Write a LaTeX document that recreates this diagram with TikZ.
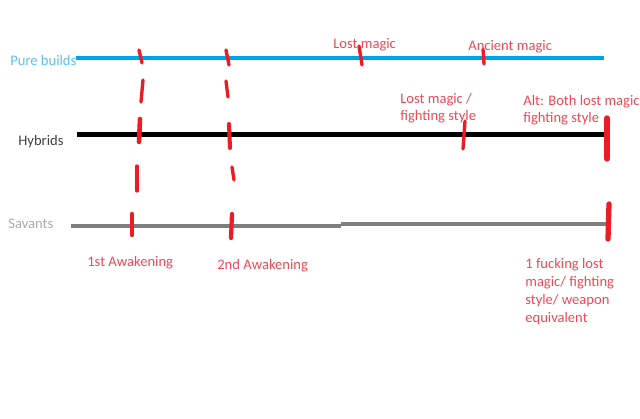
\documentclass[tikz,border=0pt]{standalone}
\usepackage{fontspec}
\setmainfont{Carlito}
\definecolor{paintred}{RGB}{237,28,36}
\definecolor{notered}{RGB}{240,72,82}
\definecolor{pureblue}{RGB}{0,162,232}
\definecolor{purelabel}{RGB}{95,192,238}
\definecolor{savgray}{RGB}{127,127,127}
\definecolor{savlabel}{RGB}{170,170,170}
\definecolor{hyblabel}{RGB}{64,64,64}

\begin{document}
\begin{tikzpicture}[x=0.02cm, y=-0.02cm,
    every node/.style={inner sep=0pt, font=\fontsize{8.3}{10.2}\selectfont},
    note/.style={anchor=base west, text=notered, align=left},
    tick/.style={draw=paintred, line width=1.9pt, line cap=round},
    track/.style={line width=#1}]
    \useasboundingbox (0,0) rectangle (640,419);

    % row labels
    \node[anchor=base west, text=purelabel] (pureLbl) at (10,66) {Pure builds};
    \node[anchor=base west, text=hyblabel] (hybLbl) at (18,145) {Hybrids};
    \node[anchor=base west, text=savlabel] (savLbl) at (8,228) {Savants};

    % tracks
    \coordinate (pureA) at (76,58.3);
    \coordinate (pureB) at (604,58.3);
    \coordinate (hybA) at (77,134.3);
    \coordinate (hybB) at (608,134.3);
    \coordinate (savA) at (71,225.7);
    \coordinate (savM) at (341,225.7);
    \coordinate (savN) at (341,224);
    \coordinate (savB) at (609,224);
    \draw[pureblue, track=2.3pt] (pureA) -- (pureB);
    \draw[black, track=2.8pt] (hybA) -- (hybB);
    \draw[savgray, track=2.5pt] (savA) -- (savM);
    \draw[savgray, track=2.5pt] (savN) -- (savB);

    % red marks
    \draw[tick] (139,50) -- (142,63);
    \draw[tick] (226,50) -- (229,65);
    \draw[tick] (359,46) -- (362,65);
    \draw[tick] (483,49) -- (484,64);
    \draw[tick] (143,80) -- (141,102);
    \draw[tick] (226,81) -- (228,97);
    \draw[tick, line width=2.6pt] (140,119) -- (139,142);
    \draw[tick, line width=2.3pt] (229,124) -- (230,148);
    \draw[tick] (465,121) -- (463,149);
    \draw[tick, line width=3pt] (607,118) -- (607,159);
    \draw[tick] (137,166) -- (137,191);
    \draw[tick] (232,167) -- (234,180);
    \draw[tick, line width=2.4pt] (132,214) -- (132,235);
    \draw[tick, line width=2.4pt] (232,214) -- (231,238);
    \draw[tick, line width=3pt] (609,204) -- (608,239);

    % notes (base = last line)
    \node[note] (lostTop) at (333,49) {Lost magic};
    \node[note] (ancient) at (468,51) {Ancient magic};
    \node[note, font=\fontsize{8.3}{9.6}\selectfont] (lostFight) at (400,120) {Lost magic /\\fighting style};
    \node[note, font=\fontsize{8.3}{9.6}\selectfont] (altBoth) at (523,122) {Alt: Both lost magic\\fighting style};
    \node[note] (first) at (87,266) {1st Awakening};
    \node[note] (second) at (217,269) {2nd Awakening};
    \node[note] (oneLost) at (525,322.5) {1 fucking lost\\magic/ fighting\\style/ weapon\\equivalent};
\end{tikzpicture}
\end{document}
